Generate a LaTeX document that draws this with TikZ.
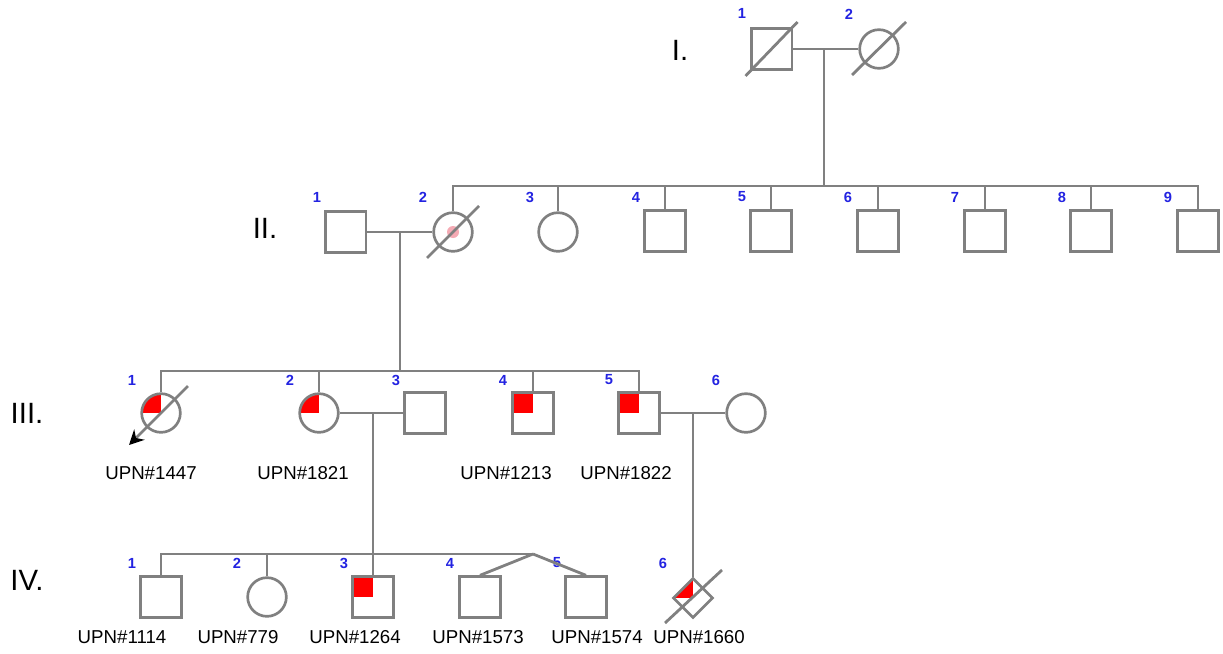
\documentclass[tikz,border=0pt]{standalone}
\usepackage{fontspec}
\setmainfont{Liberation Sans}
\usetikzlibrary{shapes.geometric,arrows.meta}
\definecolor{pedline}{RGB}{128,128,128}
\definecolor{idblue}{RGB}{35,35,225}
\definecolor{affected}{RGB}{255,0,0}
\definecolor{marker}{RGB}{245,170,180}
\begin{document}
\begin{tikzpicture}[
  x=0.75pt, y=-0.75pt,
  conn/.style={draw=pedline, line width=2.1pt},
  male/.style={rectangle, draw=pedline, line width=2pt, fill=white, minimum size=30.5pt, inner sep=0pt},
  female/.style={circle, draw=pedline, line width=2pt, fill=white, minimum size=29pt, inner sep=0pt},
  unknownsex/.style={diamond, aspect=1, draw=pedline, line width=2pt, fill=white, minimum size=30pt, inner sep=0pt},
  quarter/.style={path picture={\fill[affected] (path picture bounding box.center) rectangle (path picture bounding box.north west);}},
  idnum/.style={text=idblue, font=\fontsize{11}{13}\selectfont\bfseries, inner sep=0pt},
  upn/.style={font=\fontsize{14}{16}\selectfont, inner sep=0pt},
  gen/.style={font=\fontsize{22}{26}\selectfont, inner sep=0pt}
]
\useasboundingbox (0,0) rectangle (1223,653);

% ---------- generation labels ----------
\node[gen] (gI)   at (680,50)  {I.};
\node[gen] (gII)  at (265,228) {II.};
\node[gen] (gIII) at (27,413)  {III.};
\node[gen] (gIV)  at (27,580)  {IV.};

% ---------- generation I ----------
\node[male]   (I1) at (771.5,49) {};
\node[female] (I2) at (879,49) {};
\node[idnum] (nI1) at (742,13) {1};
\node[idnum] (nI2) at (849,14) {2};
\coordinate (m1) at (824,49);
\coordinate (s2) at (824,186);

% ---------- generation II ----------
\node[male]   (II1) at (345.5,232) {};
\node[female] (II2) at (453,232) {};
\node[female] (II3) at (558,232) {};
\node[male]   (II4) at (665,231) {};
\node[male]   (II5) at (771,231) {};
\node[male]   (II6) at (878,231) {};
\node[male]   (II7) at (985,231) {};
\node[male]   (II8) at (1091,231) {};
\node[male]   (II9) at (1198,231) {};
\fill[marker] (II2.center) circle[radius=4.5pt];
\foreach \n/\x in {1/317,2/423,3/530,4/636,5/742,6/848,7/955,8/1062,9/1168}
  \node[idnum] (nII\n) at (\x,197) {\n};
\coordinate (m2) at (400,232);
\coordinate (s3) at (400,371);

% ---------- generation III ----------
\node[female, quarter] (III1) at (161,413) {};
\node[female, quarter] (III2) at (319,413) {};
\node[male]            (III3) at (425,413) {};
\node[male, quarter]   (III4) at (533,413) {};
\node[male, quarter]   (III5) at (639,413) {};
\node[female]          (III6) at (746,413) {};
\foreach \n/\x in {1/132,2/290,3/396,4/503,5/609,6/716}
  \node[idnum] (nIII\n) at (\x,380) {\n};
\node[upn] (uIII1) at (151,473) {UPN\#1447};
\node[upn] (uIII2) at (303,473) {UPN\#1821};
\node[upn] (uIII4) at (506,473) {UPN\#1213};
\node[upn] (uIII5) at (626,473) {UPN\#1822};
\coordinate (m3) at (373,413);
\coordinate (m4) at (693,413);
\coordinate (tw) at (533,554);

% ---------- generation IV ----------
\node[male]             (IV1) at (161,597) {};
\node[female]           (IV2) at (267,597) {};
\node[male, quarter]    (IV3) at (373,597) {};
\node[male]             (IV4) at (480,597) {};
\node[male]             (IV5) at (586,597) {};
\node[unknownsex, quarter] (IV6) at (693,598) {};
\foreach \n/\x in {1/132,2/237,3/344,4/450,5/557,6/663}
  \node[idnum] (nIV\n) at (\x,563) {\n};
\node[upn] (uIV1) at (122,637) {UPN\#1114};
\node[upn] (uIV2) at (238,637) {UPN\#779};
\node[upn] (uIV3) at (355,637) {UPN\#1264};
\node[upn] (uIV4) at (478,637) {UPN\#1573};
\node[upn] (uIV5) at (597,637) {UPN\#1574};
\node[upn] (uIV6) at (699,637) {UPN\#1660};

% ---------- mating and descent lines ----------
\draw[conn] (I1.east) -- (I2.west);
\draw[conn] (m1) -- (s2);
\draw[conn] (II2.north) -- (II2.north |- s2) -- (II9.north |- s2) -- (II9.north);
\foreach \k in {3,4,5,6,7,8}
  \draw[conn] (II\k.north) -- (II\k.north |- s2);

\draw[conn] (II1.east) -- (II2.west);
\draw[conn] (m2) -- (s3);
\draw[conn] (III1.north) -- (III1.north |- s3) -- (III5.north |- s3) -- (III5.north);
\draw[conn] (III2.north) -- (III2.north |- s3);
\draw[conn] (III4.north) -- (III4.north |- s3);

\draw[conn] (III2.east) -- (III3.west);
\draw[conn] (III5.east) -- (III6.west);
\draw[conn] (IV1.north) -- (IV1.north |- tw) -- (tw);
\draw[conn] (IV2.north) -- (IV2.north |- tw);
\draw[conn] (m3) -- (IV3.north);
\draw[conn] (tw) -- (IV4.north);
\draw[conn] (tw) -- (IV5.north);
\draw[conn] (m4) -- (IV6.north);

% ---------- deceased strokes ----------
\draw[conn] ([shift={(-26,27)}]I1.center) -- ([shift={(26,-27)}]I1.center);
\draw[conn] ([shift={(-27,26)}]I2.center) -- ([shift={(27,-27)}]I2.center);
\draw[conn] ([shift={(-26,26)}]II2.center) -- ([shift={(26,-26)}]II2.center);
\draw[conn] ([shift={(-28,25)}]IV6.center) -- ([shift={(29,-28)}]IV6.center);
% proband: deceased stroke ending in an arrow
\draw[conn, -{Stealth[black, length=11pt, width=11pt]}]
  ([shift={(27,-27)}]III1.center) -- ([shift={(-32,32)}]III1.center);
\end{tikzpicture}
\end{document}
